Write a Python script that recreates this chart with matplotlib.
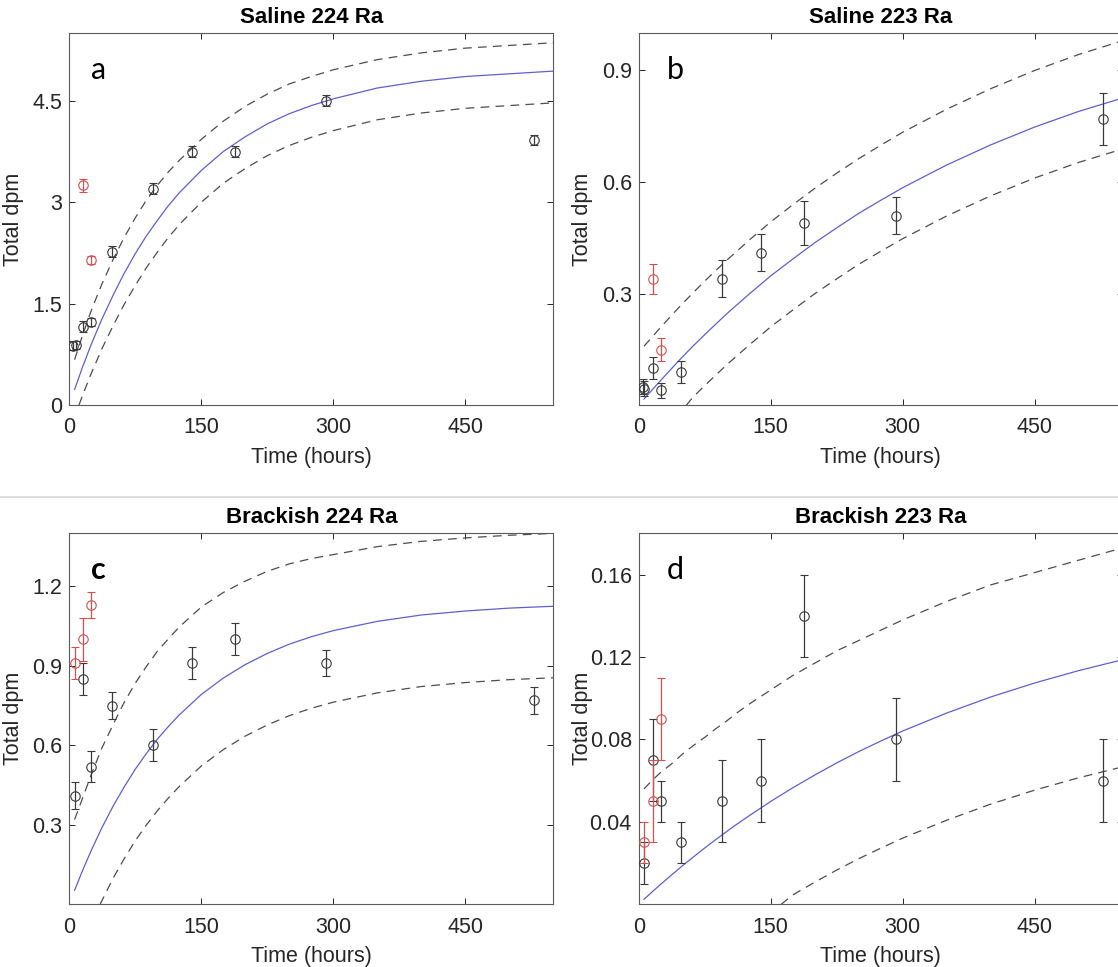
import matplotlib
matplotlib.use("Agg")
import matplotlib.pyplot as plt
from matplotlib.lines import Line2D

plt.rcParams['font.family'] = ['Liberation Sans', 'DejaVu Sans']

# measured activities (hours, dpm) - black: ingrowth samples, red: excluded samples
a_t = [4, 8, 16, 25, 48, 95, 139, 188, 292, 528]
a_y = [0.88, 0.89, 1.16, 1.23, 2.27, 3.20, 3.75, 3.75, 4.50, 3.92]
a_err = [0.06, 0.06, 0.08, 0.06, 0.08, 0.08, 0.08, 0.08, 0.08, 0.08]
a_red_t = [16, 25]
a_red_y = [3.25, 2.14]
a_red_err = [0.10, 0.06]

b_t = [5, 6, 16, 25, 48, 95, 139, 188, 292, 528]
b_y = [0.05, 0.045, 0.10, 0.04, 0.09, 0.34, 0.41, 0.49, 0.51, 0.77]
b_err = [0.02, 0.02, 0.03, 0.02, 0.03, 0.05, 0.05, 0.06, 0.05, 0.07]
b_red_t = [16, 25]
b_red_y = [0.34, 0.15]
b_red_err = [0.04, 0.03]

c_t = [6, 16, 25, 48, 95, 139, 188, 292, 528]
c_y = [0.41, 0.85, 0.52, 0.75, 0.60, 0.91, 1.00, 0.91, 0.77]
c_err = [0.05, 0.06, 0.06, 0.05, 0.06, 0.06, 0.06, 0.05, 0.05]
c_red_t = [6, 16, 25]
c_red_y = [0.91, 1.00, 1.13]
c_red_err = [0.06, 0.08, 0.05]

d_t = [6, 16, 25, 48, 95, 139, 188, 292, 528]
d_y = [0.02, 0.07, 0.05, 0.03, 0.05, 0.06, 0.14, 0.08, 0.06]
d_err = [0.01, 0.02, 0.01, 0.01, 0.02, 0.02, 0.02, 0.02, 0.02]
d_red_t = [6, 16, 25]
d_red_y = [0.03, 0.05, 0.09]
d_red_err = [0.01, 0.02, 0.02]

# fitted ingrowth curves and their upper / lower bounds
fit_t = [6, 15, 25, 37, 50, 62, 75, 87, 100, 112, 125, 150, 175, 200, 225, 250, 275, 300,
         350, 400, 450, 500, 550]

a_fit = [0.23, 0.56, 0.90, 1.27, 1.63, 1.94, 2.24, 2.49, 2.73, 2.94, 3.14, 3.47, 3.75, 3.97,
         4.16, 4.31, 4.43, 4.53, 4.69, 4.79, 4.86, 4.90, 4.94]
a_hi = [0.67, 1.03, 1.40, 1.79, 2.16, 2.47, 2.77, 3.02, 3.25, 3.44, 3.62, 3.93, 4.20, 4.42,
        4.60, 4.75, 4.86, 4.96, 5.11, 5.21, 5.28, 5.32, 5.36]
a_lo_t = [11, 15, 25, 37, 50, 62, 75, 87, 100, 112, 125, 150, 175, 200, 225, 250, 275, 300,
          350, 400, 450, 500, 550]
a_lo = [0.0, 0.14, 0.47, 0.83, 1.18, 1.48, 1.77, 2.02, 2.26, 2.47, 2.67, 3.00, 3.28, 3.50,
        3.69, 3.84, 3.96, 4.06, 4.22, 4.32, 4.39, 4.43, 4.47]

b_fit = [0.017, 0.041, 0.067, 0.098, 0.131, 0.160, 0.190, 0.217, 0.246, 0.271, 0.298, 0.348,
         0.393, 0.437, 0.477, 0.516, 0.551, 0.585, 0.646, 0.700, 0.748, 0.790, 0.826]
b_hi = [0.159, 0.183, 0.210, 0.241, 0.274, 0.303, 0.334, 0.361, 0.390, 0.415, 0.443, 0.493,
        0.539, 0.583, 0.624, 0.663, 0.699, 0.734, 0.796, 0.851, 0.900, 0.943, 0.980]
b_lo_t = [54, 62, 75, 87, 100, 112, 125, 150, 175, 200, 225, 250, 275, 300, 350, 400, 450,
          500, 550]
b_lo = [0.0, 0.023, 0.053, 0.080, 0.109, 0.134, 0.161, 0.211, 0.256, 0.300, 0.340, 0.379,
        0.414, 0.448, 0.509, 0.563, 0.611, 0.653, 0.689]

c_fit = [0.053, 0.127, 0.204, 0.289, 0.372, 0.441, 0.510, 0.567, 0.623, 0.669, 0.715, 0.792,
         0.854, 0.905, 0.947, 0.982, 1.010, 1.033, 1.068, 1.092, 1.107, 1.118, 1.125]
c_hi = [0.32, 0.40, 0.49, 0.59, 0.68, 0.76, 0.835, 0.895, 0.955, 1.00, 1.047, 1.122, 1.177,
        1.22, 1.257, 1.285, 1.305, 1.32, 1.35, 1.37, 1.383, 1.393, 1.40]
c_lo_t = [35, 50, 62, 75, 87, 100, 112, 125, 150, 175, 200, 225, 250, 275, 300, 350, 400,
          450, 500, 550]
c_lo = [0.0, 0.10, 0.17, 0.24, 0.297, 0.353, 0.399, 0.445, 0.522, 0.584, 0.635, 0.677,
        0.712, 0.740, 0.763, 0.798, 0.822, 0.837, 0.848, 0.855]

d_fit = [0.0024, 0.0059, 0.0097, 0.0141, 0.0188, 0.0229, 0.0273, 0.0312, 0.0353, 0.0390,
         0.0428, 0.0499, 0.0565, 0.0627, 0.0686, 0.0741, 0.0792, 0.0841, 0.0928, 0.1006,
         0.1074, 0.1134, 0.1187]
d_hi = [0.056, 0.060, 0.064, 0.068, 0.073, 0.077, 0.081, 0.085, 0.089, 0.093, 0.097, 0.104,
        0.111, 0.117, 0.123, 0.128, 0.133, 0.138, 0.147, 0.155, 0.161, 0.167, 0.173]
d_lo_t = [162, 175, 200, 225, 250, 275, 300, 350, 400, 450, 500, 550]
d_lo = [0.0, 0.0045, 0.0107, 0.0166, 0.0221, 0.0272, 0.0321, 0.0408, 0.0486, 0.0554,
        0.0614, 0.0667]

x_ticks = [0, 150, 300, 450]
panels = [
    dict(title="Saline 224 Ra", letter="a", pos=[0.062, 0.5812, 0.4329, 0.3844],
         ylim=(0, 5.5), yticks=[0, 1.5, 3, 4.5], yticklabels=["0", "1.5", "3", "4.5"],
         t=a_t, y=a_y, err=a_err, rt=a_red_t, ry=a_red_y, rerr=a_red_err,
         fit=a_fit, hi=a_hi, lo_t=a_lo_t, lo=a_lo, bold=False),
    dict(title="Saline 223 Ra", letter="b", pos=[0.5713, 0.5812, 0.4329, 0.3844],
         ylim=(0.001, 1.0), yticks=[0.3, 0.6, 0.9], yticklabels=["0.3", "0.6", "0.9"],
         t=b_t, y=b_y, err=b_err, rt=b_red_t, ry=b_red_y, rerr=b_red_err,
         fit=b_fit, hi=b_hi, lo_t=b_lo_t, lo=b_lo, bold=False),
    dict(title="Brackish 224 Ra", letter="c", pos=[0.062, 0.0651, 0.4329, 0.3833],
         ylim=(0.001, 1.4), yticks=[0.3, 0.6, 0.9, 1.2], yticklabels=["0.3", "0.6", "0.9", "1.2"],
         t=c_t, y=c_y, err=c_err, rt=c_red_t, ry=c_red_y, rerr=c_red_err,
         fit=c_fit, hi=c_hi, lo_t=c_lo_t, lo=c_lo, bold=True),
    dict(title="Brackish 223 Ra", letter="d", pos=[0.5713, 0.0651, 0.4329, 0.3833],
         ylim=(0.0001, 0.18), yticks=[0.04, 0.08, 0.12, 0.16],
         yticklabels=["0.04", "0.08", "0.12", "0.16"],
         t=d_t, y=d_y, err=d_err, rt=d_red_t, ry=d_red_y, rerr=d_red_err,
         fit=d_fit, hi=d_hi, lo_t=d_lo_t, lo=d_lo, bold=False),
]

ink = '#262626'
fig = plt.figure(figsize=(11.18, 9.67), dpi=100)

for p in panels:
    ax = fig.add_axes(p["pos"])
    ax.plot(fit_t, p["fit"], color='#5f5fd0', lw=0.9, zorder=2)
    ax.plot(fit_t, p["hi"], color='#4d4d4d', lw=0.9, ls=(0, (7, 5)), zorder=2)
    ax.plot(p["lo_t"], p["lo"], color='#4d4d4d', lw=0.9, ls=(0, (7, 5)), zorder=2)

    ax.errorbar(p["t"], p["y"], yerr=p["err"], fmt='o', mfc='none', mec='#3a3a3a',
                ecolor='#3a3a3a', ms=6.8, mew=0.8, elinewidth=0.9, capsize=2.9,
                capthick=0.9, zorder=3)
    ax.errorbar(p["rt"], p["ry"], yerr=p["rerr"], fmt='o', mfc='none', mec='#d25050',
                ecolor='#d25050', ms=6.8, mew=0.8, elinewidth=0.9, capsize=2.9,
                capthick=0.9, zorder=4)

    ax.set_xlim(0, 550)
    ax.set_ylim(*p["ylim"])
    ax.set_xticks(x_ticks)
    ax.set_xticklabels([str(v) for v in x_ticks])
    ax.set_yticks(p["yticks"])
    ax.set_yticklabels(p["yticklabels"])
    ax.tick_params(direction='in', length=4, width=0.7, colors=ink, labelsize=15.5,
                   top=True, right=True, labelcolor=ink)
    ax.tick_params(axis='x', pad=9)
    ax.tick_params(axis='y', pad=5)
    for s in ax.spines.values():
        s.set_color('#5a5a5a')
        s.set_linewidth(0.8)

    ax.set_xlabel("Time (hours)", fontsize=15.5, color=ink)
    ax.xaxis.set_label_coords(0.5, -0.112)
    ax.set_ylabel("Total dpm", fontsize=15.5, color=ink)
    ax.yaxis.set_label_coords(-0.094, 0.5)

    ax.text(0.5, 1.042, p["title"], transform=ax.transAxes, ha='center', va='center',
            fontsize=16, fontweight='bold', color='black')
    ax.text(0.06 if p["letter"] in "ac" else 0.075, 0.9, p["letter"], transform=ax.transAxes,
            ha='center', va='center', fontsize=22, family='Lato',
            fontweight='bold' if p["bold"] else 'normal', color='black')

# thin divider between the saline and brackish rows
fig.add_artist(Line2D([0, 1], [0.486, 0.486], transform=fig.transFigure,
                      color='#d8d8d8', lw=1.2))

fig.savefig("out.png", dpi=100)
